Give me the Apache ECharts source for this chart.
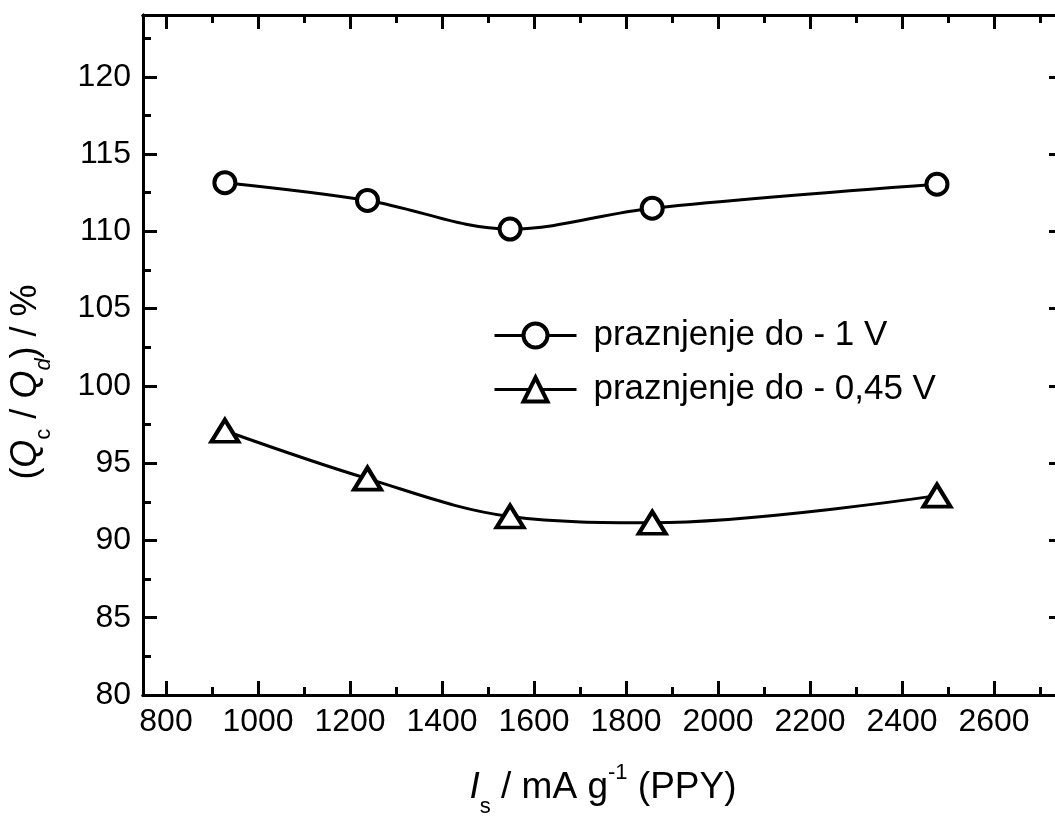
<!DOCTYPE html>
<html>
<head>
<meta charset="utf-8">
<script src="https://cdn.jsdelivr.net/npm/echarts@6/dist/echarts.min.js"></script>
<style>
html,body{margin:0;padding:0;background:#fff;overflow:hidden;}
#chart{width:1070px;height:816px;}
</style>
</head>
<body>
<div id="chart"></div>
<script>
// ---- data ----
const currentDensity = [928, 1238, 1548, 1857, 2476];          // I_s / mA g^-1 (PPY)
const ratioTo1V = [113.15, 112.0, 110.15, 111.5, 113.05];       // praznjenje do - 1 V
const ratioTo045V = [97.1, 94.0, 91.55, 91.15, 92.9];           // praznjenje do - 0,45 V
const seriesNames = ['praznjenje do - 1 V', 'praznjenje do - 0,45 V'];
const xRange = [750, 2750];
const yRange = [80, 124];

const FONT = '"Liberation Sans", Arial, sans-serif';
const black = '#000';

function pairs(xs, ys) { return xs.map((x, i) => [x, ys[i]]); }

function xAx(position, major, showLabel) {
  return {
    type: 'value', position: position, min: xRange[0], max: xRange[1],
    splitNumber: major ? 10 : 20,
    axisLine: { show: true, lineStyle: { color: black, width: 3 } },
    axisTick: { show: true, inside: true, length: major ? 14 : 8, lineStyle: { color: black, width: 3 } },
    axisLabel: showLabel ? {
      show: true, fontSize: 32, fontFamily: FONT, color: black, margin: 11,
      formatter: v => (v % 200 === 0 ? String(v) : '')
    } : { show: false },
    splitLine: { show: false }
  };
}
function yAx(position, major, showLabel) {
  return {
    type: 'value', position: position, min: yRange[0], max: yRange[1],
    interval: major ? 5 : 2.5,
    axisLine: { show: true, lineStyle: { color: black, width: 3 } },
    axisTick: { show: true, inside: true, length: major ? 14 : 8, lineStyle: { color: black, width: 3 } },
    axisLabel: showLabel ? {
      show: true, fontSize: 32, fontFamily: FONT, color: black, margin: 12,
      formatter: v => (v % 5 === 0 ? String(v) : '')
    } : { show: false },
    splitLine: { show: false }
  };
}

const xMain = xAx('bottom', true, true);
xMain.name = '{i|I}{sub|s}{n| / mA g}{sup|-1}{n| (PPY)}';
xMain.nameLocation = 'middle';
xMain.nameGap = 63;
xMain.nameTextStyle = {
  fontFamily: FONT, color: black,
  rich: {
    n: { fontSize: 37, fontFamily: FONT, color: black, lineHeight: 60, verticalAlign: 'middle' },
    i: { fontSize: 37, fontFamily: FONT, fontStyle: 'italic', color: black, lineHeight: 60, verticalAlign: 'middle' },
    sub: { fontSize: 22, fontFamily: FONT, color: black, verticalAlign: 'bottom', lineHeight: 60 },
    sup: { fontSize: 22, fontFamily: FONT, color: black, verticalAlign: 'top', lineHeight: 60, padding: [4, 0, 0, 0] }
  }
};

const yMain = yAx('left', true, true);
yMain.name = '{n|(}{i|Q}{sub|c}{n| / }{i|Q}{subi|d}{n|) / %}';
yMain.nameLocation = 'middle';
yMain.nameRotate = 90;
yMain.nameGap = 88;
yMain.nameTextStyle = {
  fontFamily: FONT, color: black, padding: [0, 54, 0, 0],
  rich: {
    n: { fontSize: 36, fontFamily: FONT, color: black, lineHeight: 58, verticalAlign: 'middle' },
    i: { fontSize: 36, fontFamily: FONT, fontStyle: 'italic', color: black, lineHeight: 58, verticalAlign: 'middle' },
    sub: { fontSize: 22, fontFamily: FONT, color: black, verticalAlign: 'bottom', lineHeight: 58 },
    subi: { fontSize: 22, fontFamily: FONT, fontStyle: 'italic', color: black, verticalAlign: 'bottom', lineHeight: 58 }
  }
};

const chart = echarts.init(document.getElementById('chart'), null, { renderer: 'canvas' });
chart.setOption({
  backgroundColor: '#fff',
  animation: false,
  grid: { left: 143, top: 15, width: 920, height: 680, containLabel: false, outerBoundsMode: 'none' },
  xAxis: [xMain, xAx('bottom', false, false), xAx('top', true, false), xAx('top', false, false)],
  yAxis: [yMain, yAx('left', false, false), yAx('right', true, false), yAx('right', false, false)],
  legend: {
    orient: 'vertical', left: 488, top: 313,
    itemWidth: 82, itemHeight: 30, itemGap: 19,
    itemStyle: { color: '#fff', borderColor: black, borderWidth: 4 },
    lineStyle: { color: black, width: 3 },
    textStyle: { fontSize: 35, fontFamily: FONT, color: black, padding: [0, 0, 0, 12] },
    data: seriesNames
  },
  series: [
    {
      name: seriesNames[0], type: 'line', xAxisIndex: 0, yAxisIndex: 0,
      data: pairs(currentDensity, ratioTo1V), smooth: 0.35,
      symbol: 'circle', symbolSize: 21,
      itemStyle: { color: '#fff', borderColor: black, borderWidth: 4 },
      lineStyle: { color: black, width: 3 }, z: 3
    },
    {
      name: seriesNames[1], type: 'line', xAxisIndex: 0, yAxisIndex: 0,
      data: pairs(currentDensity, ratioTo045V), smooth: 0.35,
      symbol: 'triangle', symbolSize: [27, 22],
      itemStyle: { color: '#fff', borderColor: black, borderWidth: 4 },
      lineStyle: { color: black, width: 3 }, z: 3
    }
  ]
});
</script>
</body>
</html>
